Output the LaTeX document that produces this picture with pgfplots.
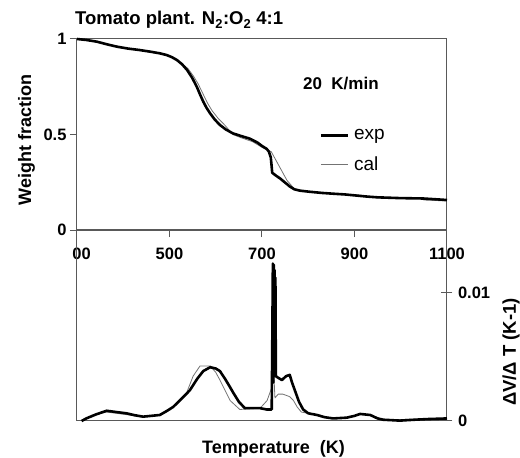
\documentclass[border=0pt]{standalone}
\usepackage{fontspec}
\setmainfont{Liberation Sans}
\usepackage{pgfplots}
\pgfplotsset{compat=1.18}
\newcommand{\fs}[1]{\fontsize{#1}{#1}\selectfont}
\definecolor{axisgray}{gray}{0.35}
\definecolor{calgray}{gray}{0.45}
\pgfplotsset{
  tga/.style={
    width=370pt, height=191pt, scale only axis,
    xmin=300, xmax=1100,
    axis line style={draw=axisgray, line width=1pt},
    tick style={draw=axisgray, line width=1pt},
    tick label style={font=\fs{16.5}\bfseries},
    /pgf/number format/assume math mode=true,
    scaled y ticks=false,
    clip=false,
  },
  expline/.style={black, line width=2.6pt, line join=round},
  calline/.style={calgray, line width=0.8pt, line join=round},
}
\begin{document}
\begin{tikzpicture}
\path[use as bounding box] (-77pt,-228pt) rectangle (443pt,230pt);
% weight fraction
\begin{axis}[
  tga, name=top, at={(0,0)}, anchor=south west,
  ymin=0, ymax=1,
  xtick={300,500,700,900,1100},
  xticklabels={\phantom{3}00,500,700,\raisebox{-3pt}{900},1100},
  ytick={0,0.5,1}, yticklabels={0,0.5,1},
  xtick pos=bottom, ytick pos=left,
  tick align=outside, major tick length=7pt,
  xticklabel style={yshift=-7pt},
  reverse legend,
  legend cell align=left,
  legend style={draw=none, fill=none, font=\fs{19}, at={(0.655,0.415)},
    anchor=west, inner sep=0pt, row sep=11pt},
  legend image code/.code={\draw[#1] (0pt,0pt) -- (27pt,0pt);},
]
\addplot[calline] coordinates {
(300,1)(343,0.986)(386,0.96)(436,0.942)(479,0.925)(505,0.905)(520,0.885)
(540,0.845)(552,0.805)(562,0.765)(572,0.715)(582,0.665)(592,0.625)(605,0.585)
(620,0.548)(637,0.5)(655,0.483)(680,0.462)(702,0.43)(713,0.418)(720,0.41)
(754,0.26)(770,0.215)(790,0.203)(820,0.195)(853,0.19)(912,0.182)(930,0.176)
(950,0.168)(1000,0.166)(1045,0.165)(1050,0.157)(1100,0.152)};
\addlegendentry{\hspace{3pt}cal}
\addplot[expline] coordinates {
(300,1)(320,0.995)(343,0.986)(365,0.972)(386,0.96)(410,0.95)(436,0.942)
(460,0.933)(479,0.925)(494,0.916)(505,0.905)(516,0.89)(527,0.868)(538,0.838)
(549,0.797)(559,0.75)(566,0.71)(573,0.672)(580,0.64)(588,0.61)(598,0.578)
(609,0.55)(622,0.526)(637,0.506)(655,0.492)(674,0.478)(690,0.458)(700,0.44)
(710,0.425)(715,0.41)(719,0.38)(721,0.33)(722,0.30)(730,0.285)(739,0.27)
(750,0.248)(760,0.228)(770,0.213)(782,0.206)(804,0.2)(830,0.194)(854,0.19)
(880,0.186)(927,0.175)(950,0.171)(998,0.167)(1048,0.165)(1075,0.161)(1100,0.157)};
\addlegendentry{\hspace{3pt}exp}
\end{axis}
% derivative
\begin{axis}[
  tga, name=bot, at={(0,0)}, anchor=north west,
  ymin=0, ymax=0.01492,
  xtick=\empty,
  ytick={0,0.01}, yticklabels={0,0.01},
  ytick pos=right, yticklabel pos=right,
  tick align=center, major tick length=11pt,
  yticklabel style={xshift=2pt},
]
\addplot[calline] coordinates {
(310,0)(340,0.0005)(364,0.0007)(407,0.0005)(443,0.0003)(479,0.0005)(508,0.0011)
(537,0.0022)(551,0.0035)(566,0.0043)(588,0.0043)(600,0.0038)(609,0.0032)
(620,0.0024)(631,0.0016)(652,0.0009)(696,0.001)(711,0.0016)(722,0.0027)
(725,0.0041)(728,0.0018)(735,0.0021)(745,0.0021)(760,0.0019)(768,0.0016)
(776,0.0011)(785,0.0007)(800,0.0006)(819,0.0005)(835,0.0003)(854,0.0002)
(883,0.00026)(912,0.00055)(934,0.00047)(962,0.0001)(1057,0.00015)(1100,0.0002)};
\addplot[expline] coordinates {
(310,0)(320,0.0002)(340,0.0005)(364,0.0008)(385,0.0007)(407,0.0006)(425,0.00045)
(443,0.00034)(460,0.0004)(479,0.00047)(495,0.0008)(508,0.0011)(525,0.0017)
(544,0.0024)(560,0.0033)(573,0.0039)(588,0.0042)(600,0.0041)(609,0.0039)
(620,0.0033)(630,0.0027)(638,0.0022)(650,0.0015)(663,0.001)(680,0.001)
(696,0.001)(710,0.0009)(721,0.0009)(722,0.005)(723.5,0.0123)(724.5,0.003)
(725.5,0.0122)(726,0.004)(727,0.0118)(728,0.0045)(729,0.0112)(730,0.0035)
(734,0.0034)(743,0.0032)(752,0.0035)(760,0.0036)(765,0.003)(771,0.0024)
(780,0.0015)(789,0.0009)(800,0.0006)(819,0.00047)(835,0.0003)(854,0.0002)
(883,0.00026)(900,0.0004)(912,0.00055)(934,0.00047)(950,0.0002)(962,0.0001)
(998,0.00003)(1030,0.0001)(1057,0.00015)(1100,0.0002)};
\end{axis}
\node[anchor=base west, font=\fs{18.5}\bfseries, inner sep=0pt] at (-2pt,205pt)
  {Tomato plant. N\textsubscript{2}:O\textsubscript{2} 4:1};
\node[rotate=90, font=\fs{18}\bfseries] at (-50.5pt,90pt) {Weight fraction};
\node[anchor=base west, font=\fs{17}\bfseries, inner sep=0pt] at (226pt,140pt)
  {20\hspace{0.55em}K/min};
\node[anchor=base, font=\fs{18}\bfseries, inner sep=0pt] at (196.5pt,-223pt)
  {Temperature\hspace{0.55em}(K)};
\node[rotate=90, font=\fs{18.5}\bfseries] at (434pt,-122pt) {ΔV/Δ T (K-1)};
\end{tikzpicture}
\end{document}
